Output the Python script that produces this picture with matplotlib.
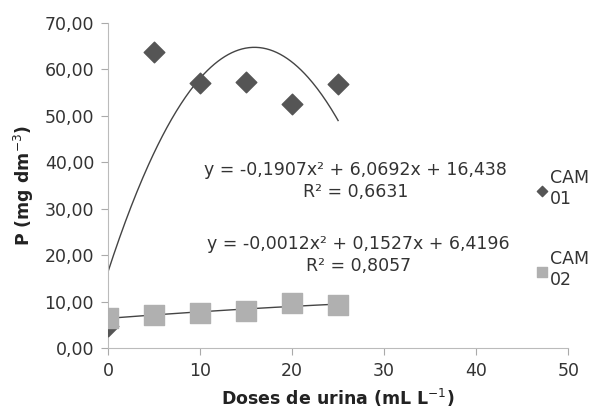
import numpy as np
import matplotlib
matplotlib.use('Agg')
import matplotlib.pyplot as plt

plt.rcParams['font.family'] = ['DejaVu Sans']

doses = [0, 5, 10, 15, 20, 25]
cam01 = [4.7, 63.8, 57.1, 57.3, 52.6, 56.8]
cam02 = [6.5, 7.2, 7.6, 8.0, 9.8, 9.2]

# trendline coefficients as printed on the chart (a, b, c)
fit01 = [-0.1907, 6.0692, 16.438]
fit02 = [-0.0012, 0.1527, 6.4196]
eq01 = 'y = -0,1907x² + 6,0692x + 16,438\nR² = 0,6631'
eq02 = 'y = -0,0012x² + 0,1527x + 6,4196\nR² = 0,8057'

fig = plt.figure(figsize=(6, 4.15), dpi=100)
ax = fig.add_axes([0.18, 0.161, 0.767, 0.784])

xs = np.linspace(0, 25, 200)
ax.plot(xs, np.polyval(fit01, xs), color='#444444', lw=1)
ax.plot(xs, np.polyval(fit02, xs), color='#444444', lw=1)

ax.scatter(doses, cam01, marker='D', s=110, color='#555555', zorder=3, label='CAM\n01')
ax.scatter(doses, cam02, marker='s', s=200, color='#b0b0b0', zorder=3, label='CAM\n02')

ax.set_xlim(0, 50)
ax.set_ylim(0, 70)
ax.set_xticks(range(0, 51, 10))
ax.set_yticks(range(0, 71, 10))
ax.set_yticklabels([f'{v:.2f}'.replace('.', ',') for v in range(0, 71, 10)])
ax.tick_params(labelsize=12.5, color='#aaaaaa', labelcolor='#333333', length=5, pad=5)
for s in ['top', 'right']:
    ax.spines[s].set_visible(False)
for s in ['left', 'bottom']:
    ax.spines[s].set_color('#bbbbbb')

ax.set_xlabel('Doses de urina (mL L$^{-1}$)', fontsize=12.5, fontweight='bold', color='#222222',
              labelpad=5)
ax.set_ylabel('P (mg dm$^{-3}$)', fontsize=12.5, fontweight='bold', color='#222222', labelpad=6)

ax.text(0.592, 0.564, eq01, transform=fig.transFigure, ha='center', va='center',
        fontsize=12.5, color='#333333', linespacing=1.25)
ax.text(0.597, 0.386, eq02, transform=fig.transFigure, ha='center', va='center',
        fontsize=12.5, color='#333333', linespacing=1.25)

ax.legend(loc='center left', bbox_to_anchor=(0.865, 0.448), bbox_transform=fig.transFigure,
          frameon=False, fontsize=12.5, labelspacing=2.4, handletextpad=0.1,
          handlelength=0.8, markerscale=0.5, labelcolor='#333333')
for t in ax.get_legend().get_texts():
    t.set_linespacing(1.25)

fig.savefig('out.png', dpi=100)
